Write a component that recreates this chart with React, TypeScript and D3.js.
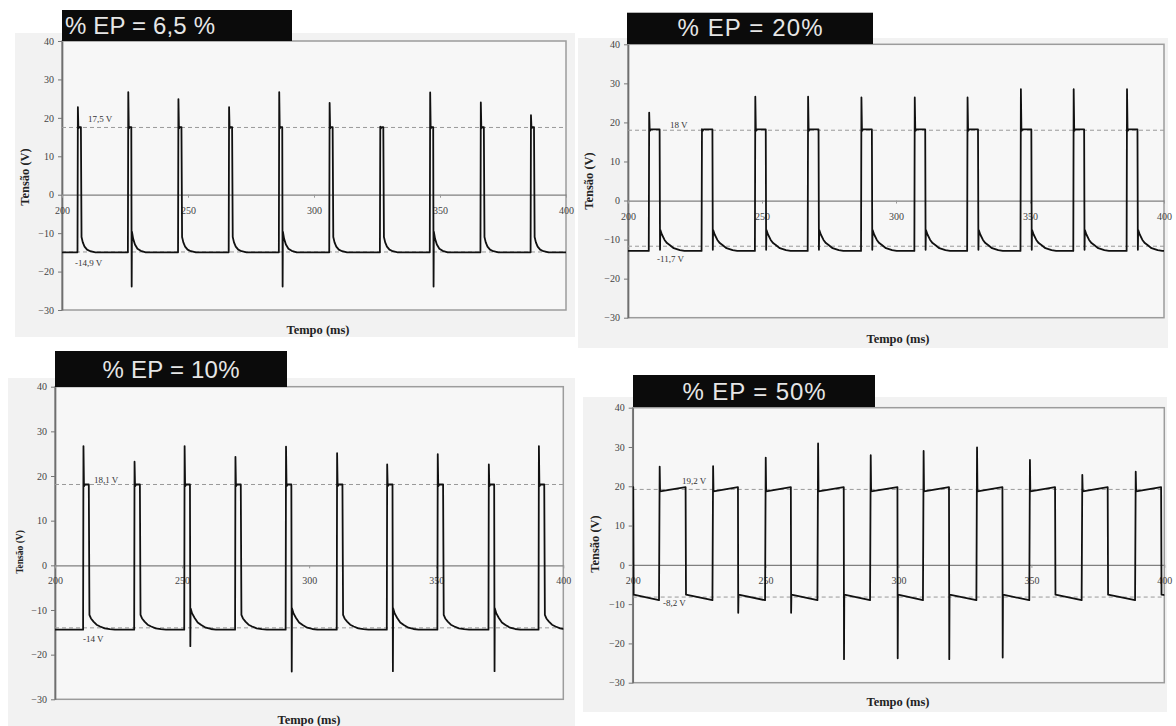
import React, { useEffect, useRef } from "react";
import * as d3 from "d3";

// axes
const yTicks = [-30, -20, -10, 0, 10, 20, 30, 40];
const xTicks = [200, 250, 300, 350, 400];
const titles = ["% EP = 6,5 %", "% EP = 20%", "% EP = 10%", "% EP = 50%"];

// reference levels (dashed lines) and their labels
const ep65Refs = [17.5, -14.9];
const ep65RefLabels = ["17,5 V", "-14,9 V"];
const ep20Refs = [18, -11.7];
const ep20RefLabels = ["18 V", "-11,7 V"];
const ep10Refs = [18.1, -14];
const ep10RefLabels = ["18,1 V", "-14 V"];
const ep50Refs = [19.2, -8.2];
const ep50RefLabels = ["19,2 V", "-8,2 V"];

// % EP = 6,5 % : pulse start (ms), spike peak (V), negative spike at fall (V)
const ep65Starts = [206.2, 226.2, 246.1, 266.2, 286.1, 306.1, 326.2, 346.0, 366.1, 386.0];
const ep65Peaks = [22.8, 26.7, 24.9, 22.8, 26.7, 23.9, 17.7, 26.6, 24.0, 20.7];
const ep65Neg = [null, -23.9, null, null, -23.9, null, null, -23.9, null, null];
const ep65Decay = [[0, 4.0], [0.5, 2.6], [1.2, 1.5], [2.2, 0.7], [3.5, 0.3], [5.5, 0]];
const ep65Level = { high: 17.6, base: -15.0, width: 1.3, dip: null, bump: 5.4 };

// % EP = 20%
const ep20Starts = [207.8, 227.5, 247.4, 267.1, 287.0, 306.9, 326.6, 346.5, 366.2, 386.1];
const ep20Peaks = [22.5, 18.3, 26.6, 26.6, 26.4, 26.4, 26.4, 28.5, 28.5, 28.5];
const ep20Neg = [null, null, null, null, null, null, null, null, null, null];
const ep20Decay = [[0, 5.4], [0.6, 4.2], [1.6, 2.8], [2.5, 2.0], [3.5, 1.5], [5, 0.7], [7.3, 0.2], [9, 0]];
const ep20Level = { high: 18.2, base: -12.9, width: 4.0, dip: -12.6, bump: 5.4 };

// % EP = 10%
const ep10Starts = [211.1, 231.2, 250.9, 270.9, 290.8, 310.9, 330.6, 350.5, 370.6, 390.3];
const ep10Peaks = [26.7, 23.2, 26.7, 24.3, 26.6, 25.1, 22.6, 24.9, 22.6, 26.7];
const ep10Neg = [null, null, -18.1, null, -23.8, null, -23.7, null, -23.7, null];
const ep10Decay = [[0, 3.3], [0.6, 2.5], [1.6, 1.8], [2.8, 1.1], [4.2, 0.7], [6, 0.3], [8, 0.1], [10, 0]];
const ep10Level = { high: 18.1, base: -14.4, width: 2.2, dip: null, bump: 4.8 };

// % EP = 50% : square wave, rising and falling edges (ms)
const ep50Rises = [209.9, 230.0, 249.8, 269.5, 289.3, 309.2, 329.3, 349.2, 368.9, 389.0];
const ep50Peaks = [25.0, 25.1, 27.3, 30.9, 27.9, 29.0, 29.9, 26.7, 22.9, 23.7];
const ep50Falls = [200.2, 219.9, 239.6, 259.5, 279.4, 299.6, 319.0, 339.1, 358.9, 378.7, 398.8];
const ep50FallSpikes = [null, null, -12.2, -12.2, -24.0, -23.8, -24.0, -23.6, null, null, null];
const ep50High = [18.7, 19.8];
const ep50Low = [-7.6, -9.0];

type Pt = [number, number];

function pulseTrace(starts: number[], peaks: number[], negs: (number | null)[], decay: number[][], lv: any): Pt[] {
  const pts: Pt[] = [[199, lv.base]];
  starts.forEach((t0, i) => {
    pts.push([t0 - 0.05, lv.base]);
    pts.push([t0 + 0.1, peaks[i]]);
    pts.push([t0 + 0.3, Math.min(peaks[i], lv.high) - 0.4]);
    pts.push([t0 + 0.7, lv.high]);
    pts.push([t0 + lv.width, lv.high]);
    const tf = t0 + lv.width + 0.15;
    let scale = 1;
    if (negs[i] != null) {
      pts.push([tf, negs[i] as number]);
      scale = lv.bump / decay[0][1];
    } else if (lv.dip != null) {
      pts.push([tf, lv.dip]);
    }
    decay.forEach(([dt, off]) => pts.push([tf + 0.1 + dt, lv.base + off * scale]));
  });
  pts.push([402, lv.base]);
  return pts;
}

function squareTrace(): Pt[] {
  const pts: Pt[] = [[199.8, ep50High[1]]];
  ep50Falls.forEach((tf, j) => {
    pts.push([tf, ep50High[1]]);
    if (ep50FallSpikes[j] != null) {
      pts.push([tf + 0.1, ep50FallSpikes[j] as number]);
      pts.push([tf + 0.2, ep50Low[0]]);
    } else {
      pts.push([tf + 0.15, ep50Low[0]]);
    }
    if (j < ep50Rises.length) {
      const tr = ep50Rises[j];
      pts.push([tr, ep50Low[1]]);
      pts.push([tr + 0.25, ep50Peaks[j]]);
      pts.push([tr + 0.4, ep50High[0]]);
    }
  });
  pts.push([402, ep50Low[0] - 0.2]);
  return pts;
}

const layouts = [
  { bg: [15, 33, 560, 304], plot: [62, 566, 41, 310], title: [62, 10, 230, 31], anchor: "start", tx: 65, tb: 33.5, tl: 150, yLab: [25, 177, 12.5], xLab: [318, 334], refLab: [[88, 122], [75, 266]] },
  { bg: [578, 38, 590, 310], plot: [628, 1164, 44.3, 317.7], title: [627, 12.7, 246, 31.3], anchor: "middle", tx: 750, tb: 36, tl: 145, yLab: [589, 181, 12.5], xLab: [898, 343], refLab: [[670, 128], [657, 262]] },
  { bg: [8, 378, 567, 348], plot: [55, 563.3, 386.7, 699.3], title: [55, 351, 232, 36], anchor: "middle", tx: 171, tb: 378.3, tl: 137, yLab: [20, 552, 9.5], xLab: [309, 724], refLab: [[94, 483], [83, 642]] },
  { bg: [583, 397, 584, 315], plot: [632.7, 1164.3, 407.7, 682.7], title: [633, 375, 242, 32], anchor: "middle", tx: 754, tb: 399.5, tl: 143, yLab: [595, 544, 12.5], xLab: [898, 706], refLab: [[682, 483.5], [663, 605.5]] },
];

const panels = [
  { trace: () => pulseTrace(ep65Starts, ep65Peaks, ep65Neg, ep65Decay, ep65Level), refs: ep65Refs, refLabels: ep65RefLabels },
  { trace: () => pulseTrace(ep20Starts, ep20Peaks, ep20Neg, ep20Decay, ep20Level), refs: ep20Refs, refLabels: ep20RefLabels },
  { trace: () => pulseTrace(ep10Starts, ep10Peaks, ep10Neg, ep10Decay, ep10Level), refs: ep10Refs, refLabels: ep10RefLabels },
  { trace: () => squareTrace(), refs: ep50Refs, refLabels: ep50RefLabels },
];

const serif = "'Liberation Serif', 'Times New Roman', serif";
const sans = "'Liberation Sans', Arial, sans-serif";

export default function App() {
  const ref = useRef<SVGSVGElement>(null);

  useEffect(() => {
    document.body.style.margin = "0";
    const svg = d3.select(ref.current);
    svg.selectAll("*").remove();

    panels.forEach((p, k) => {
      const L: any = layouts[k];
      const [left, right, top, bottom] = L.plot;
      const g = svg.append("g");

      g.append("rect")
        .attr("x", L.bg[0]).attr("y", L.bg[1])
        .attr("width", L.bg[2]).attr("height", L.bg[3])
        .attr("fill", "#f2f2f2");

      g.append("rect")
        .attr("x", left).attr("y", top)
        .attr("width", right - left).attr("height", bottom - top)
        .attr("fill", "#f7f7f7")
        .attr("stroke", "#9c9c9c")
        .attr("stroke-width", 1.5);

      const x = d3.scaleLinear().domain([200, 400]).range([left, right]);
      const y = d3.scaleLinear().domain([-30, 40]).range([bottom, top]);

      // y axis
      const ya = g.append("g")
        .attr("transform", `translate(${left},0)`)
        .call(d3.axisLeft(y).tickValues(yTicks).tickSize(4).tickSizeOuter(0).tickPadding(4));
      ya.select(".domain").attr("stroke", "#6f6f6f").attr("stroke-width", 1.7);
      ya.selectAll(".tick line").attr("stroke", "#777");
      ya.selectAll("text").attr("fill", "#444").style("font-family", serif).style("font-size", "10px");

      // zero line with x ticks
      const xa = g.append("g")
        .attr("transform", `translate(0,${y(0)})`)
        .call(d3.axisBottom(x).tickValues(xTicks).tickSize(3).tickSizeOuter(0).tickPadding(9).tickFormat(d3.format("d")));
      xa.select(".domain").attr("stroke", "#808080").attr("stroke-width", 1.3);
      xa.selectAll(".tick line").attr("stroke", "#999");
      xa.selectAll("text").attr("fill", "#444").style("font-family", serif).style("font-size", "10px");

      // dashed reference levels
      g.selectAll(".ref")
        .data(p.refs)
        .enter()
        .append("line")
        .attr("x1", left).attr("x2", right)
        .attr("y1", d => y(d)).attr("y2", d => y(d))
        .attr("stroke", "#999")
        .attr("stroke-width", 1)
        .attr("stroke-dasharray", "4,3");

      p.refLabels.forEach((t, i) => {
        g.append("text")
          .attr("x", L.refLab[i][0]).attr("y", L.refLab[i][1])
          .text(t)
          .attr("fill", "#333")
          .style("font-family", serif).style("font-size", "9px");
      });

      // trace
      const clipId = "clip" + k;
      g.append("clipPath").attr("id", clipId)
        .append("rect")
        .attr("x", left).attr("y", top - 2)
        .attr("width", right - left).attr("height", bottom - top + 4);

      g.append("path")
        .datum(p.trace())
        .attr("clip-path", `url(#${clipId})`)
        .attr("fill", "none")
        .attr("stroke", "#111")
        .attr("stroke-width", 1.8)
        .attr("stroke-linejoin", "round")
        .attr("d", d3.line<Pt>().x(d => x(d[0])).y(d => y(d[1])));

      // title box
      g.append("rect")
        .attr("x", L.title[0]).attr("y", L.title[1])
        .attr("width", L.title[2]).attr("height", L.title[3])
        .attr("fill", "#0b0b0b");
      g.append("text")
        .attr("x", L.tx).attr("y", L.tb)
        .attr("text-anchor", L.anchor)
        .attr("textLength", L.tl)
        .attr("lengthAdjust", "spacing")
        .text(titles[k])
        .attr("fill", "#e6e6e6")
        .style("font-family", sans).style("font-size", "24px");

      // axis titles
      g.append("text")
        .attr("transform", `translate(${L.yLab[0]},${L.yLab[1]}) rotate(-90)`)
        .attr("text-anchor", "middle")
        .attr("dy", "0.35em")
        .text("Tensão (V)")
        .attr("fill", "#222")
        .style("font-family", serif).style("font-weight", "bold").style("font-size", L.yLab[2] + "px");

      g.append("text")
        .attr("x", L.xLab[0]).attr("y", L.xLab[1])
        .attr("text-anchor", "middle")
        .text("Tempo (ms)")
        .attr("fill", "#222")
        .style("font-family", serif).style("font-weight", "bold").style("font-size", "12.5px");
    });
  }, []);

  return <svg ref={ref} width={1176} height={726} style={{ display: "block", background: "#fff" }} />;
}
